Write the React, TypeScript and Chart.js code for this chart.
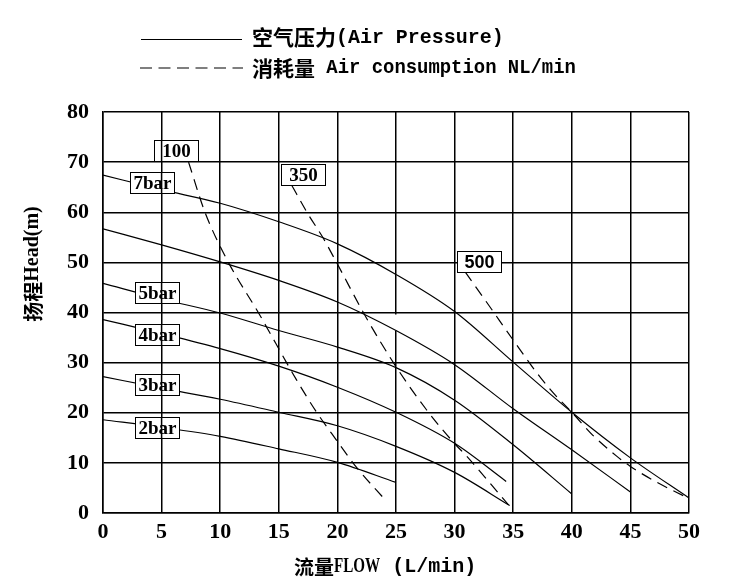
import React, { useEffect, useRef } from 'react';
import { Chart, registerables } from 'chart.js';

Chart.register(...registerables);

// ---- Air pressure curves (head in m vs flow in L/min) ----
const flow2 = [0, 5, 10, 15, 20, 25];
const head2 = [18.6, 17.1, 15.3, 12.8, 10.1, 6.1];

const flow3 = [0, 5, 10, 15, 20, 25, 30, 34.7];
const head3 = [27.2, 24.9, 22.7, 20.1, 17.4, 13.3, 8.1, 1.5];

const flow4 = [0, 5, 10, 15, 20, 25, 30, 34.4];
const head4 = [38.6, 35.8, 32.8, 29.3, 25.1, 20.1, 13.9, 6.3];

const flow5 = [0, 5, 10, 15, 20, 25, 30, 35, 40];
const head5 = [45.8, 42.7, 39.9, 36.4, 33.1, 29.0, 22.5, 13.6, 3.8];

const flow6 = [0, 5, 10, 15, 20, 25, 30, 35, 40, 45];
const head6 = [56.7, 53.5, 50.1, 46.4, 42.1, 36.4, 29.6, 20.8, 12.6, 4.2];

const flow7 = [0, 5, 10, 15, 20, 25, 30, 35, 40, 45, 50];
const head7 = [67.4, 64.5, 61.8, 58.1, 53.7, 47.6, 40.2, 30.1, 20.1, 11.0, 3.0];

// ---- Air consumption curves (NL/min) ----
const flow100 = [7.3, 8.7, 10.7, 13.3, 16.5, 18.2, 19.9, 21.6, 24.2];
const head100 = [70, 60, 50, 39.8, 26.6, 20.2, 14.6, 9.2, 2.3];

const flow350 = [16.1, 17.4, 18.8, 19.9, 22.5, 25, 27.6, 29.9, 31, 34.6];
const head350 = [65.4, 60, 54.8, 50.1, 38.8, 29.2, 20.6, 14.1, 11.4, 1.6];

const flow500 = [30.9, 32.9, 35, 37, 38.4, 40, 41.8, 43.8, 45, 47.2, 49.9];
const head500 = [48.1, 41.5, 34.5, 28.0, 24.0, 20.1, 15.5, 11.4, 9.3, 6.2, 3.0];

// ---- Curve labels (text, anchor in data units) ----
const labelTexts = ['100', '350', '500', '7bar', '5bar', '4bar', '3bar', '2bar'];
const labelFlow = [6.2, 17.1, 32.1, 4.2, 4.6, 4.6, 4.6, 4.6];
const labelHead = [72.4, 67.5, 50.2, 65.9, 43.9, 35.6, 25.6, 17.0];

// ---- Axis / legend texts ----
const legendSolidCn = '空气压力';
const legendSolidEn = '(Air Pressure)';
const legendDashCn = '消耗量';
const legendDashEn = ' Air consumption NL/min';
const xTitleCn = '流量';
const xTitleEn1 = 'FLOW';
const xTitleEn2 = ' (L/min)';
const yTitleCn = '扬程';
const yTitleEn = 'Head(m)';

const X_MIN = 0, X_MAX = 50, X_STEP = 5;
const Y_MIN = 0, Y_MAX = 80, Y_STEP = 10;

// break in the x = 25 grid line of the original drawing (data units)
const gridGapFlow = 25;
const gridGapHeads = [39.6, 36.4];

type Seg = { t: string; f: string; sx?: number };

function drawSegs(ctx: CanvasRenderingContext2D, segs: Seg[], x: number, y: number, align: 'left' | 'center') {
  ctx.textBaseline = 'middle';
  ctx.textAlign = 'left';
  const widths = segs.map((s) => {
    ctx.font = s.f;
    return ctx.measureText(s.t).width * (s.sx ?? 1);
  });
  const total = widths.reduce((a, b) => a + b, 0);
  let cx = align === 'center' ? x - total / 2 : x;
  segs.forEach((s, i) => {
    ctx.save();
    ctx.font = s.f;
    ctx.translate(cx, y);
    ctx.scale(s.sx ?? 1, 1);
    ctx.fillText(s.t, 0, 0);
    ctx.restore();
    cx += widths[i];
  });
}

const CJK = '"Noto Sans CJK SC"';
const MONO = '"Liberation Mono"';
const SERIF = '"Liberation Serif"';

const pairs = (xs: number[], ys: number[]) => xs.map((x, i) => ({ x, y: ys[i] }));

export default function App() {
  const ref = useRef<HTMLCanvasElement>(null);

  useEffect(() => {
    const canvas = ref.current!;
    const solid = (xs: number[], ys: number[]) => ({
      data: pairs(xs, ys),
      borderColor: '#000',
      borderWidth: 1.2,
      pointRadius: 0,
      showLine: true,
      fill: false,
      cubicInterpolationMode: 'monotone' as const,
    });
    const dashed = (xs: number[], ys: number[]) => ({ ...solid(xs, ys), borderDash: [11, 7] });

    const decor = {
      id: 'decor',
      beforeDatasetsDraw(chart: any) {
        const { ctx, scales } = chart;
        const gx = scales.x.getPixelForValue(gridGapFlow);
        const y1 = scales.y.getPixelForValue(gridGapHeads[0]);
        const y2 = scales.y.getPixelForValue(gridGapHeads[1]);
        ctx.save();
        ctx.fillStyle = '#fff';
        ctx.fillRect(gx - 2, y1, 4, y2 - y1);
        ctx.restore();
      },
      afterDatasetsDraw(chart: any) {
        const { ctx, scales } = chart;
        const bw = 44, bh = 21;
        labelTexts.forEach((t, i) => {
          const cx = scales.x.getPixelForValue(labelFlow[i]);
          const cy = scales.y.getPixelForValue(labelHead[i]);
          const l = Math.round(cx - bw / 2), tp = Math.round(cy - bh / 2);
          ctx.save();
          ctx.fillStyle = '#fff';
          ctx.fillRect(l, tp, bw, bh);
          // vertical grid lines passing through the box
          ctx.strokeStyle = '#000';
          ctx.lineWidth = 1.5;
          for (let v = X_MIN; v <= X_MAX; v += X_STEP) {
            const gx = scales.x.getPixelForValue(v);
            if (gx > l + 1 && gx < l + bw - 1) {
              ctx.beginPath();
              ctx.moveTo(gx, tp);
              ctx.lineTo(gx, tp + bh);
              ctx.stroke();
            }
          }
          ctx.lineWidth = 1;
          ctx.strokeRect(l + 0.5, tp + 0.5, bw, bh);
          ctx.fillStyle = '#000';
          ctx.textAlign = 'center';
          ctx.textBaseline = 'middle';
          ctx.font = t === '500' ? 'bold 18px "Liberation Sans"' : `bold 19px ${SERIF}`;
          ctx.fillText(t, l + bw / 2 + 0.5, tp + bh / 2 + 1.5);
          ctx.restore();
        });
      },
      afterDraw(chart: any) {
        const { ctx } = chart;
        ctx.save();
        ctx.fillStyle = '#000';
        ctx.strokeStyle = '#000';
        ctx.lineWidth = 1.2;
        // legend lines
        ctx.beginPath();
        ctx.moveTo(141, 39.5);
        ctx.lineTo(242, 39.5);
        ctx.stroke();
        ctx.setLineDash([12, 6.5]);
        ctx.beginPath();
        ctx.moveTo(140, 68);
        ctx.lineTo(243, 68);
        ctx.stroke();
        ctx.setLineDash([]);
        // legend texts
        drawSegs(ctx, [
          { t: legendSolidCn, f: `bold 21px ${CJK}` },
          { t: legendSolidEn, f: `bold 21px ${MONO}`, sx: 0.95 },
        ], 252, 37.5, 'left');
        drawSegs(ctx, [
          { t: legendDashCn, f: `bold 21px ${CJK}` },
          { t: legendDashEn, f: `bold 21px ${MONO}`, sx: 0.9 },
        ], 252, 68, 'left');
        // x title
        drawSegs(ctx, [
          { t: xTitleCn, f: `bold 20px ${CJK}` },
          { t: xTitleEn1, f: `bold 21px ${SERIF}`, sx: 0.72 },
          { t: xTitleEn2, f: `bold 20px ${MONO}` },
        ], 294, 567, 'left');
        // y title
        ctx.save();
        ctx.translate(33, 264);
        ctx.rotate(-Math.PI / 2);
        drawSegs(ctx, [
          { t: yTitleCn, f: `bold 20px ${CJK}` },
          { t: yTitleEn, f: `bold 20px ${SERIF}` },
        ], 0, 0, 'center');
        ctx.restore();
        ctx.restore();
      },
    };

    const chart = new Chart(canvas, {
      type: 'scatter',
      data: {
        datasets: [
          solid(flow2, head2),
          solid(flow3, head3),
          solid(flow4, head4),
          solid(flow5, head5),
          solid(flow6, head6),
          solid(flow7, head7),
          dashed(flow100, head100),
          dashed(flow350, head350),
          dashed(flow500, head500),
        ],
      },
      options: {
        animation: false,
        responsive: false,
        events: [],
        layout: { padding: { top: 112, right: 43, left: 0, bottom: 0 } },
        plugins: { legend: { display: false }, tooltip: { enabled: false }, title: { display: false } },
        scales: {
          x: {
            type: 'linear',
            min: X_MIN,
            max: X_MAX,
            ticks: { stepSize: X_STEP, color: '#000', padding: 6, font: { family: SERIF, size: 22, weight: 'bold' } },
            grid: { color: '#000', lineWidth: 1.5, drawTicks: false },
            border: { color: '#000', width: 1.5 },
            afterFit(s: any) { s.height = 74; },
          },
          y: {
            type: 'linear',
            min: Y_MIN,
            max: Y_MAX,
            ticks: { stepSize: Y_STEP, color: '#000', padding: 14, font: { family: SERIF, size: 22, weight: 'bold' } },
            grid: { color: '#000', lineWidth: 1.5, drawTicks: false },
            border: { color: '#000', width: 1.5 },
            afterFit(s: any) { s.width = 103; },
          },
        },
      } as any,
      plugins: [decor],
    });
    return () => chart.destroy();
  }, []);

  return (
    <div style={{ position: 'fixed', left: 0, top: 0, width: 732, height: 587, background: '#fff' }}>
      <canvas ref={ref} width={732} height={587} style={{ display: 'block' }} />
    </div>
  );
}
